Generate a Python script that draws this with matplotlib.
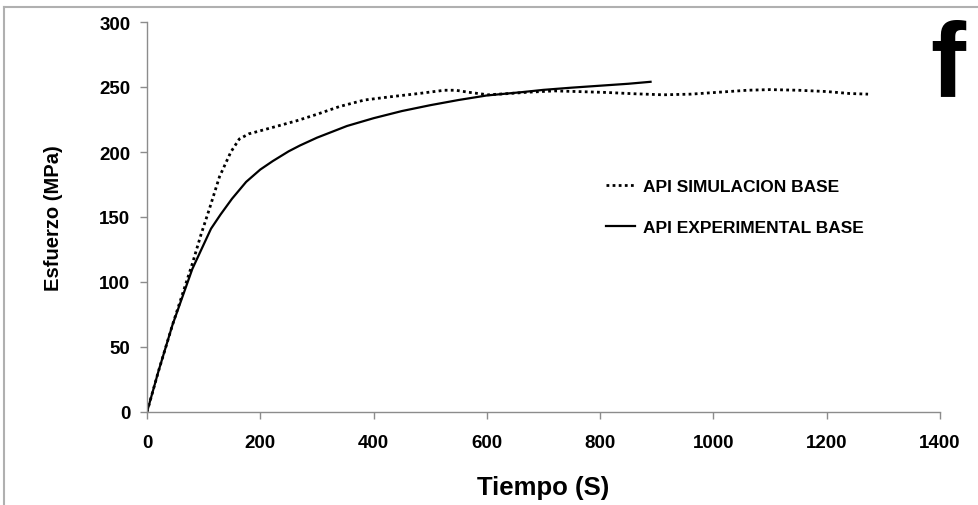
import matplotlib
matplotlib.use("Agg")
import matplotlib.pyplot as plt
from matplotlib.lines import Line2D

# Data
exp_t = [0, 20, 45, 80, 113, 130, 150, 175, 200, 222, 250, 270, 300, 353, 400, 450, 500,
         550, 600, 661, 700, 750, 800, 850, 889]
exp_y = [0, 31, 67, 110, 141, 152, 164, 177, 186.5, 193, 200.5, 205, 211, 220, 226, 231.5,
         236, 240, 243.5, 246, 247.8, 249.5, 251, 252.5, 254]

sim_t = [0, 20, 45, 80, 95, 110, 128, 148, 163, 180, 193, 235, 264, 300, 340, 384, 430,
         480, 525, 545, 567, 602, 640, 673, 720, 760, 811, 860, 911, 960, 1010, 1060,
         1100, 1150, 1200, 1240, 1273]
sim_y = [0, 31, 67, 114, 136, 156, 181, 200, 210, 214, 215.5, 220.5, 224, 229, 235, 240,
         242.5, 245, 247.5, 247.5, 246, 244, 245, 246, 247, 246.5, 245.8, 244.8, 244,
         244.5, 246, 247.5, 248, 247.5, 246.5, 245, 244.5]

x_ticks = [0, 200, 400, 600, 800, 1000, 1200, 1400]
y_ticks = [0, 50, 100, 150, 200, 250, 300]
sim_label = "API SIMULACION BASE"
exp_label = "API EXPERIMENTAL BASE"
x_label = "Tiempo (S)"
y_label = "Esfuerzo (MPa)"
panel = "f"

fam = ["Liberation Sans", "DejaVu Sans"]

fig = plt.figure(figsize=(9.79, 5.06), dpi=100)
ax = fig.add_axes([147/979, 1-413/506, (940-147)/979, (413-23)/506])

ax.plot(sim_t, sim_y, color="black", lw=2.0, linestyle=(0, (1, 1.2)),
        dash_capstyle="butt", label=sim_label)
ax.plot(exp_t, exp_y, color="black", lw=1.6, label=exp_label)

ax.set_xlim(0, 1400)
ax.set_ylim(0, 300)
ax.set_xticks(x_ticks)
ax.set_yticks(y_ticks)
for s in ["top", "right"]:
    ax.spines[s].set_visible(False)
for s in ["left", "bottom"]:
    ax.spines[s].set_color("#8c8c8c")
    ax.spines[s].set_linewidth(1.0)
ax.tick_params(axis="both", direction="out", length=5, color="#8c8c8c", width=1.0)
ax.tick_params(axis="x", pad=11)
ax.tick_params(axis="y", pad=7)
for lab in ax.get_xticklabels() + ax.get_yticklabels():
    lab.set_fontfamily(fam)
    lab.set_fontweight("bold")
    lab.set_fontsize(13.5)

ax.set_xlabel(x_label, fontsize=18.5, fontweight="bold", family=fam, labelpad=17)
ax.set_ylabel(y_label, fontsize=14.5, fontweight="bold", family=fam, labelpad=26)

leg = ax.legend(loc="upper left", bbox_to_anchor=(590/979, 1-164/506),
                bbox_transform=fig.transFigure, frameon=False,
                handlelength=1.7, handletextpad=0.45, labelspacing=1.5,
                prop={"family": fam, "weight": "bold", "size": 12.5})

fig.text(948/979, 1-69/506, panel, fontsize=76, fontweight="bold",
         family=fam, ha="center", va="center")

# outer border lines (top and left)
fig.add_artist(Line2D([4/979, 1], [1-8/506, 1-8/506], transform=fig.transFigure,
                      color="#b0b0b0", lw=1.5))
fig.add_artist(Line2D([4/979, 4/979], [0, 1-8/506], transform=fig.transFigure,
                      color="#b0b0b0", lw=1.5))

fig.savefig("out.png", dpi=100)
